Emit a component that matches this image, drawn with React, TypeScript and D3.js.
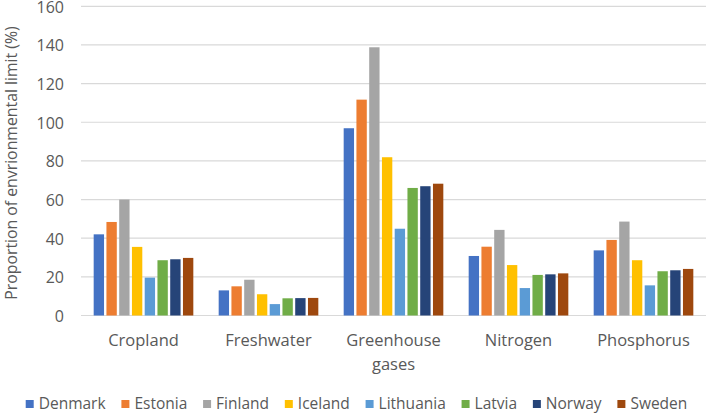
import React from "react";
import * as d3 from "d3";

const categories = ["Cropland", "Freshwater", "Greenhouse gases", "Nitrogen", "Phosphorus"];
const categoryLines = [["Cropland"], ["Freshwater"], ["Greenhouse", "gases"], ["Nitrogen"], ["Phosphorus"]];
const countries = ["Denmark", "Estonia", "Finland", "Iceland", "Lithuania", "Latvia", "Norway", "Sweden"];
const colors = ["#4472C4", "#ED7D31", "#A5A5A5", "#FFC000", "#5B9BD5", "#70AD47", "#264478", "#9E480E"];

// values per country, in category order
const denmark = [42.0, 13.0, 96.9, 30.8, 33.7];
const estonia = [48.4, 15.1, 111.7, 35.6, 39.1];
const finland = [60.0, 18.5, 138.8, 44.3, 48.6];
const iceland = [35.5, 11.0, 81.9, 26.1, 28.6];
const lithuania = [19.6, 5.9, 44.9, 14.2, 15.6];
const latvia = [28.6, 8.9, 66.0, 21.0, 22.9];
const norway = [29.1, 9.0, 66.9, 21.3, 23.4];
const sweden = [29.8, 9.1, 68.2, 21.8, 24.1];
const seriesValues = [denmark, estonia, finland, iceland, lithuania, latvia, norway, sweden];

const yTicks = [0, 20, 40, 60, 80, 100, 120, 140, 160];
const yTitle = "Proportion of envrionmental limit (%)";

const W = 707;
const H = 414;
const FONT = "'Open Sans', sans-serif";
const TXT = "#595959";

function measure(text: string, size: number) {
  const c = document.createElement("canvas").getContext("2d");
  if (!c) return text.length * size * 0.5;
  c.font = `${size}px 'Open Sans'`;
  return c.measureText(text).width;
}

export default function App() {
  const x0 = d3.scaleBand<string>().domain(categories).range([81, 706]).padding(0);
  const x1 = d3.scaleBand<string>().domain(countries).range([0, x0.bandwidth()]).paddingInner(0).paddingOuter(0.9);
  const y = d3.scaleLinear().domain([0, 160]).range([315.5, 6.3]);

  const legendSize = 15.5;
  const sq = 8;
  const gapSqText = 5;
  const gapItems = 15.8;
  const widths = countries.map((c) => sq + gapSqText + measure(c, legendSize));
  const total = d3.sum(widths) + gapItems * (countries.length - 1);
  let lx = 356.5 - total / 2;
  const legendX = widths.map((w) => {
    const v = lx;
    lx += w + gapItems;
    return v;
  });

  const bw = x1.bandwidth();
  const inset = 1.2;

  return (
    <svg width={W} height={H} style={{ position: "absolute", left: 0, top: 0, background: "#fff" }} fontFamily={FONT}>
      <rect x={0} y={0} width={W} height={H} fill="#fff" />
      {yTicks.map((t) => (
        <g key={t}>
          <line x1={81} x2={706} y1={y(t)} y2={y(t)} stroke="#d9d9d9" strokeWidth={1.2} />
          <text x={64} y={y(t)} dy="0.4em" textAnchor="end" fontSize={16} fill={TXT}>
            {t}
          </text>
        </g>
      ))}
      <text
        transform={`translate(16.5, ${163}) rotate(-90)`}
        textAnchor="middle"
        fontSize={15.8}
        fill={TXT}
      >
        {yTitle}
      </text>
      {categories.map((cat, ci) => (
        <g key={cat} transform={`translate(${x0(cat)},0)`}>
          {countries.map((c, si) => {
            const v = seriesValues[si][ci];
            return (
              <rect
                key={c}
                x={(x1(c) as number) + inset}
                y={y(v)}
                width={bw - inset * 2}
                height={y(0) - y(v)}
                fill={colors[si]}
              />
            );
          })}
          {categoryLines[ci].map((line, li) => (
            <text
              key={line}
              x={x0.bandwidth() / 2}
              y={346 + li * 24}
              textAnchor="middle"
              fontSize={16.5}
              fill={TXT}
            >
              {line}
            </text>
          ))}
        </g>
      ))}
      {countries.map((c, i) => (
        <g key={c} transform={`translate(${legendX[i]},0)`}>
          <rect x={0} y={400} width={sq} height={sq} fill={colors[i]} />
          <text x={sq + gapSqText} y={409} fontSize={legendSize} fill={TXT}>
            {c}
          </text>
        </g>
      ))}
    </svg>
  );
}
